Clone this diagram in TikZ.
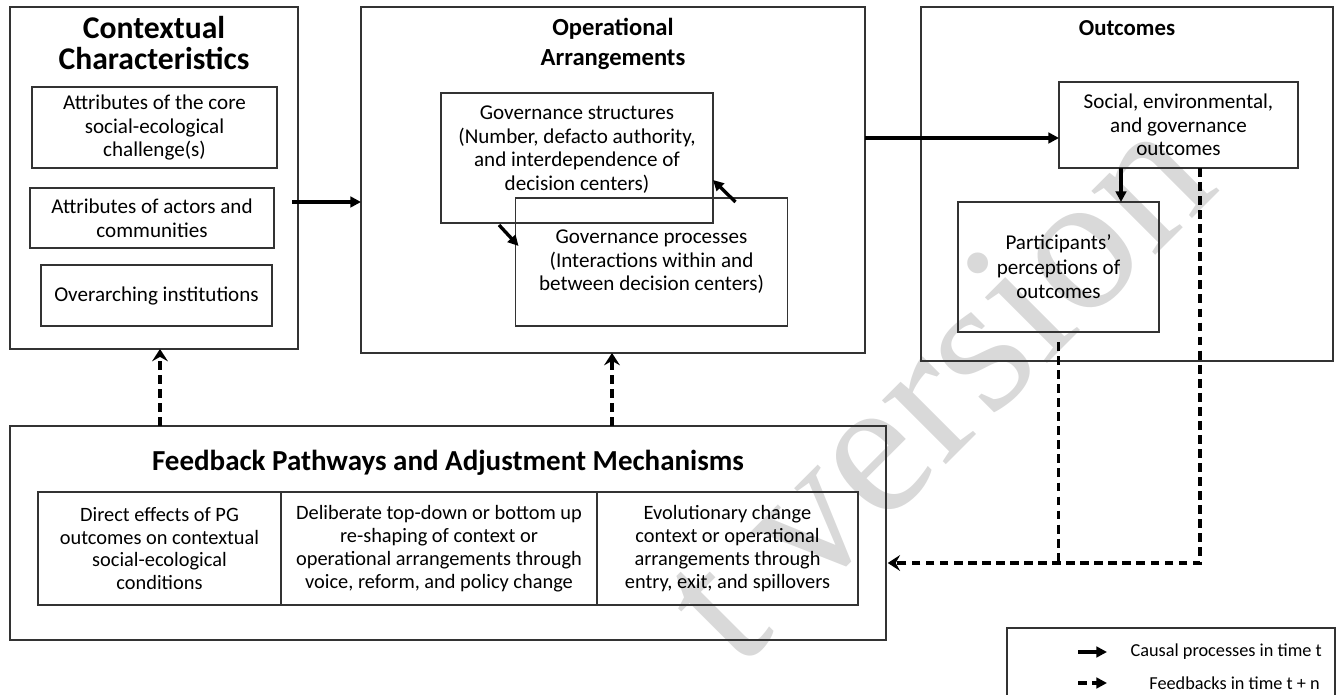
\documentclass[tikz,border=0pt]{standalone}
\usepackage{fontspec}
\setmainfont{Carlito}
\newfontfamily\wmfont{Liberation Serif}
\usetikzlibrary{arrows.meta,positioning}
\newcommand{\px}{0.02cm}

\begin{document}
\begin{tikzpicture}[x=0.02cm, y=-0.02cm,
		every node/.style={font=\fontsize{12}{13.4}\selectfont, align=center},
		frame/.style 2 args={draw=black!80, line width=0.75pt, minimum width=#1*\px, minimum height=#2*\px, inner sep=2pt, outer sep=0pt},
		heading/.style={font=\fontsize{14}{17.2}\selectfont\bfseries},
		cell/.style={font=\fontsize{11.6}{13}\selectfont},
		causal/.style={line width=1.9pt, -{Triangle[length=6pt, width=6pt]}},
		feedback/.style={line width=2pt, dash pattern=on 5pt off 3pt, -{Stealth[length=7pt, width=9pt, inset=2.5pt]}},
		fbline/.style={line width=2pt, dash pattern=on 5pt off 3pt},
		legendfb/.style={line width=2pt, dash pattern=on 5pt off 3pt, -{Triangle[length=6pt, width=6pt]}}]
		% Define colors
		\definecolor{wmgray}{RGB}{217, 217, 217}
		
		\useasboundingbox (0,0) rectangle (1340,695);
		
		% ===== WATERMARK (behind everything) =====
		\node[font=\wmfont\fontsize{112}{112}\selectfont, text=wmgray, rotate=45] (wmark) at (935,385) {t version};
		
		% ===== CONTEXTUAL CHARACTERISTICS =====
		\node[frame={288}{342}] (ctx) at (154,178) {};
		\node[heading, font=\fontsize{18}{17.6}\selectfont\bfseries] (ctxtitle) at (154,43) {Contextual\\Characteristics};
		\node[frame={245}{81}] (core) at (154.5,127.5) {Attributes of the core\\social-ecological\\challenge(s)};
		\node[frame={244}{60}] (actors) at (152,218) {Attributes of actors and\\communities};
		\node[frame={231}{61}] (inst) at (156.5,295.5) {Overarching institutions};
		
		% ===== OPERATIONAL ARRANGEMENTS =====
		\node[frame={504}{346}] (ops) at (613,180) {};
		\node[heading] (opstitle) at (613,44) {Operational\\Arrangements};
		\node[frame={272}{130}, text depth=11pt] (gstruct) at (577,158) {Governance structures\\(Number, defacto authority,\\and interdependence of\\decision centers)};
		\node[frame={272}{128}] (gproc) at (651.5,262) {Governance processes\\(Interactions within and\\between decision centers)};
		
		% ===== OUTCOMES =====
		\node[frame={412}{354}] (outc) at (1127,184) {};
		\node[heading, font=\fontsize{13}{16}\selectfont\bfseries] (outctitle) at (1127,28) {Outcomes};
		\node[frame={239}{86}] (social) at (1178.5,125) {Social, environmental,\\and governance\\outcomes};
		\node[frame={201}{130}, font=\fontsize{12}{14}\selectfont] (partic) at (1058.5,267) {Participants’\\perceptions of\\outcomes};
		
		% ===== FEEDBACK PATHWAYS =====
		\node[frame={876}{214}] (fb) at (448,533) {};
		\node[heading, font=\fontsize{16.5}{18}\selectfont\bfseries] (fbtitle) at (448,463) {Feedback Pathways and Adjustment Mechanisms};
		\node[frame={243}{113}, cell] (direct) at (159.5,548.5) {Direct effects of PG\\outcomes on contextual\\social-ecological\\conditions};
		\node[frame={316}{113}, cell, right=0pt of direct] (deliberate) {Deliberate top-down or bottom up\\re-shaping of context or\\operational arrangements through\\voice, reform, and policy change};
		\node[frame={261}{113}, cell, right=0pt of deliberate] (evol) {Evolutionary change\\context or operational\\arrangements through\\entry, exit, and spillovers};
		
		% ===== CAUSAL ARROWS =====
		\draw[causal] ([shift={(-6,24)}]ctx.east) -- (ops.west |- 0,202);
		\draw[causal] (ops.east |- 0,138) -- (social.west |- 0,138);
		\draw[causal] ([shift={(58,2)}]gstruct.south west) -- ([shift={(3,48)}]gproc.north west);
		\draw[causal] ([shift={(-52,4)}]gproc.north east) -- ([shift={(0,22)}]gstruct.east);
		\draw[causal] (social.south -| 1121,0) -- (partic.north -| 1121,0);
		
		% ===== FEEDBACK ARROWS =====
		\draw[feedback] (social.south -| 1200,0) |- ([xshift=1pt]fb.east |- 0,563);
		\draw[fbline] ([shift={(0,10)}]partic.south) -- (partic.south |- 0,563);
		\draw[feedback] (fb.north -| 160,0) -- (ctx.south -| 160,0);
		\draw[feedback] (fb.north -| 612,0) -- (ops.south -| 612,0);
		
		% ===== LEGEND =====
		\node[frame={328}{90}, anchor=north west] (legend) at (1007,628) {};
		\coordinate (cstart) at (1078,652);
		\coordinate (cend) at (1107,652);
		\draw[causal] (cstart) -- (cend);
		\node[anchor=east, font=\fontsize{10.4}{12}\selectfont] (causaltxt) at (1328,652) {Causal processes in time t};
		\coordinate (fstart) at (1078,683);
		\coordinate (fend) at (1107,683);
		\draw[legendfb] (fstart) -- (fend);
		\node[anchor=east, font=\fontsize{10.4}{12}\selectfont] (fbtxt) at (1326,683) {Feedbacks in time t + n};
		
	\end{tikzpicture}
\end{document}
